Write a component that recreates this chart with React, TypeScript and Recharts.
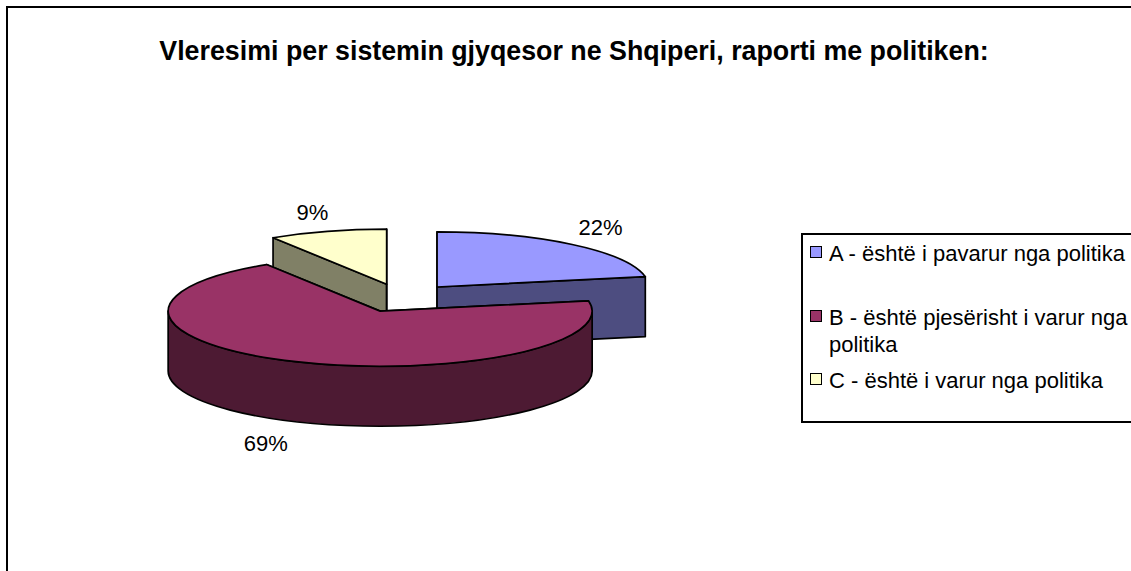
import { PieChart, Pie, Legend } from 'recharts';

const categories = ['A - është i pavarur nga politika', 'B - është pjesërisht i varur nga politika', 'C - është i varur nga politika'];
const shares = [22, 69, 9];
const topColors = ['#9999FF', '#993366', '#FFFFCC'];
const wallColors = ['#4D4D80', '#4D1A33', '#808066'];

const data = categories.map((name, i) => ({ name, value: shares[i] }));

const TILT = 0.26;
const DEPTH = 60;
const EXPLODE = 55;
const FRONT_SLICE = categories[1]; // this one overlaps the others, so it goes in its own top layer
const LABEL_NUDGE_X = [-4, -10, -1];
const LABEL_NUDGE_Y = [0, 2, 2];

const RAD = Math.PI / 180;

function Slice3D(props: any) {
    const { cx, cy, midAngle, outerRadius: rx, startAngle, endAngle, name } = props;
    const i = categories.indexOf(name);
    const ry = rx * TILT;
    const ox = cx + EXPLODE * Math.cos(midAngle * RAD);
    const oy = cy - EXPLODE * TILT * Math.sin(midAngle * RAD);
    const hi = Math.max(startAngle, endAngle);
    const lo = Math.min(startAngle, endAngle);
    const px = (a: number) => ox + rx * Math.cos(a * RAD);
    const py = (a: number, d = 0) => oy - ry * Math.sin(a * RAD) + d;

    const wallStroke = { stroke: '#000', strokeWidth: 1.7, strokeLinejoin: 'round' as const };
    const edge = (a: number) => `M${ox},${oy} L${px(a)},${py(a)} L${px(a)},${py(a, DEPTH)} L${ox},${oy + DEPTH} Z`;

    // outer wall only shows on the front half of the ellipse
    const a1 = Math.min(hi, 0);
    const a2 = Math.max(lo, -180);
    const outer = a1 > a2
        ? `M${px(a1)},${py(a1)} A${rx},${ry} 0 0 1 ${px(a2)},${py(a2)} L${px(a2)},${py(a2, DEPTH)} A${rx},${ry} 0 0 0 ${px(a1)},${py(a1, DEPTH)} Z`
        : null;

    const large = hi - lo > 180 ? 1 : 0;
    const top = `M${ox},${oy} L${px(hi)},${py(hi)} A${rx},${ry} 0 ${large} 1 ${px(lo)},${py(lo)} Z`;

    return (
        <g>
            <path d={edge(hi)} fill={wallColors[i]} {...wallStroke} />
            <path d={edge(lo)} fill={wallColors[i]} {...wallStroke} />
            {outer && <path d={outer} fill={wallColors[i]} {...wallStroke} />}
            <path d={top} fill={topColors[i]} {...wallStroke} />
        </g>
    );
}

function backShape(props: any) {
    return props.name === FRONT_SLICE ? <g /> : <Slice3D {...props} />;
}

function frontShape(props: any) {
    return props.name === FRONT_SLICE ? <Slice3D {...props} /> : <g />;
}

function renderPercent(props: any) {
    const { cx, cy, midAngle, outerRadius: rx, value, name } = props;
    const i = categories.indexOf(name);
    const ry = rx * TILT;
    const sin = Math.sin(midAngle * RAD);
    const cos = Math.cos(midAngle * RAD);
    const x = cx + EXPLODE * cos + 1.24 * rx * cos + LABEL_NUDGE_X[i];
    const y = cy - EXPLODE * TILT * sin - 1.4 * ry * sin + (sin < 0 ? DEPTH : 0) + LABEL_NUDGE_Y[i];
    return (
        <text x={x} y={y} textAnchor="middle" dominantBaseline="central" fontSize={22} fill="#000">
            {value}%
        </text>
    );
}

function LegendBox() {
    return (
        <div style={{ width: 400, height: 190, border: '2px solid #000', boxSizing: 'border-box', position: 'relative', fontSize: 22, lineHeight: '27px', color: '#000' }}>
            {categories.map((label, i) => (
                <div key={label} style={{ position: 'absolute', left: 26, top: [5, 69, 132][i], width: 312 }}>
                    <span style={{ position: 'absolute', left: -19, top: 6, width: 12, height: 12, background: topColors[i], border: '1.5px solid #000', boxSizing: 'border-box' }} />
                    {label}
                </div>
            ))}
        </div>
    );
}

export default function App() {
    return (
        <div style={{ position: 'fixed', left: 0, top: 0, width: 1131, height: 571, overflow: 'hidden', background: '#fff', fontFamily: '"Liberation Sans", Arial, sans-serif' }}>
            <div style={{ position: 'absolute', left: 6, top: 6, width: 1400, height: 800, border: '2px solid #000' }} />
            <div style={{ position: 'absolute', left: 0, top: 36, width: 1148, textAlign: 'center', fontSize: 26.8, fontWeight: 'bold', color: '#000' }}>
                Vleresimi per sistemin gjyqesor ne Shqiperi, raporti me politiken:
            </div>
            <PieChart width={1131} height={571} margin={{ top: 0, right: 0, bottom: 0, left: 0 }} style={{ position: 'absolute', left: 0, top: 0 }}>
                <Pie
                    data={data}
                    dataKey="value"
                    nameKey="name"
                    cx={402}
                    cy={298}
                    outerRadius={212}
                    startAngle={90}
                    endAngle={-270}
                    shape={backShape}
                    label={renderPercent}
                    labelLine={false}
                    isAnimationActive={false}
                />
                <Pie
                    data={data}
                    dataKey="value"
                    nameKey="name"
                    cx={402}
                    cy={298}
                    outerRadius={212}
                    startAngle={90}
                    endAngle={-270}
                    shape={frontShape}
                    isAnimationActive={false}
                />
                <Legend content={<LegendBox />} wrapperStyle={{ left: 801, top: 233, width: 400, bottom: 'auto' }} />
            </PieChart>
        </div>
    );
}
